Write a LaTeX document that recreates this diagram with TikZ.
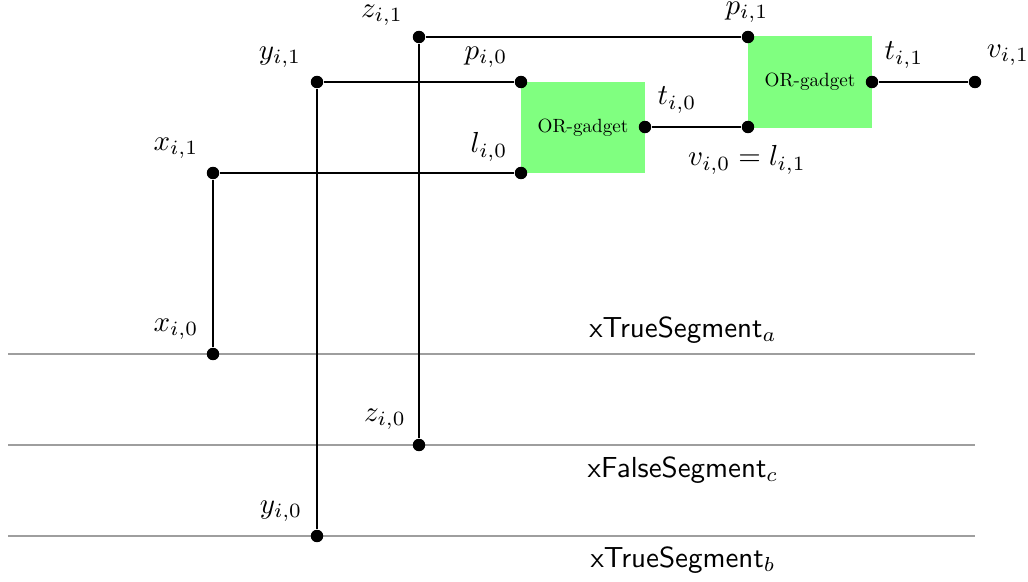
\documentclass[tikz,border=0pt]{standalone}
\usepackage{graphicx}
\begin{document}
\begin{tikzpicture}[x=0.345pt,y=-0.345pt,
  wire/.style={line width=0.85pt,black},
  seg/.style={line width=0.7pt,black!38},
  dot/.style={circle,fill=black,inner sep=0pt,minimum size=4.3pt},
  gadget/.style={fill=green!50,draw=none,minimum width=42.8pt,minimum height=31.4pt,inner sep=0pt},
  lbl/.style={inner sep=0pt,font=\normalsize},
  seglbl/.style={inner sep=0pt,font=\sffamily}]
\useasboundingbox (0,0) rectangle (1028,582);
% gadgets
\node[gadget] (g0) at (583,127.5) {\scalebox{0.66}{OR-gadget}};
\node[gadget] (g1) at (810,82) {\scalebox{0.66}{OR-gadget}};
% segment lines
\coordinate (sa1) at (8,354); \coordinate (sa2) at (975,354);
\coordinate (sc1) at (8,445); \coordinate (sc2) at (975,445);
\coordinate (sb1) at (8,536); \coordinate (sb2) at (975,536);
\draw[seg] (sa1) -- (sa2);
\draw[seg] (sc1) -- (sc2);
\draw[seg] (sb1) -- (sb2);
\node[seglbl] (la) at (683,330) {xTrueSegment$_a$};
\node[seglbl] (lc) at (683,470) {xFalseSegment$_c$};
\node[seglbl] (lb) at (683,560) {xTrueSegment$_b$};
% dots
\node[dot] (x0) at (213,354) {};
\node[dot] (x1) at (213,173) {};
\node[dot] (y0) at (317,536) {};
\node[dot] (y1) at (317,82) {};
\node[dot] (z0) at (419,445) {};
\node[dot] (z1) at (419,37) {};
\node[dot] (p0) at (521,82) {};
\node[dot] (l0) at (521,173) {};
\node[dot] (t0) at (645,127) {};
\node[dot] (v0) at (748,127) {};
\node[dot] (p1) at (748,37) {};
\node[dot] (t1) at (872,82) {};
\node[dot] (v1) at (975,82) {};
% wires
\draw[wire] (x0) -- (x1) -- (l0);
\draw[wire] (y0) -- (y1) -- (p0);
\draw[wire] (z0) -- (z1) -- (p1);
\draw[wire] (t0) -- (v0);
\draw[wire] (t1) -- (v1);
% labels
\node[lbl] (Lx0) at ([shift={(-37,-25)}]x0) {$x_{i,0}$};
\node[lbl] (Lx1) at ([shift={(-37,-25)}]x1) {$x_{i,1}$};
\node[lbl] (Ly0) at ([shift={(-36,-25)}]y0) {$y_{i,0}$};
\node[lbl] (Ly1) at ([shift={(-37,-25)}]y1) {$y_{i,1}$};
\node[lbl] (Lz0) at ([shift={(-34,-26)}]z0) {$z_{i,0}$};
\node[lbl] (Lz1) at ([shift={(-37,-22)}]z1) {$z_{i,1}$};
\node[lbl] (Lp0) at ([shift={(-35,-25)}]p0) {$p_{i,0}$};
\node[lbl] (Ll0) at ([shift={(-32,-26)}]l0) {$l_{i,0}$};
\node[lbl] (Lt0) at ([shift={(32,-27)}]t0) {$t_{i,0}$};
\node[lbl] (Lv0) at ([shift={(-1,33)}]v0) {$v_{i,0}=l_{i,1}$};
\node[lbl] (Lp1) at ([shift={(-1,-25)}]p1) {$p_{i,1}$};
\node[lbl] (Lt1) at ([shift={(32,-27)}]t1) {$t_{i,1}$};
\node[lbl] (Lv1) at ([shift={(33,-27)}]v1) {$v_{i,1}$};
\end{tikzpicture}
\end{document}
